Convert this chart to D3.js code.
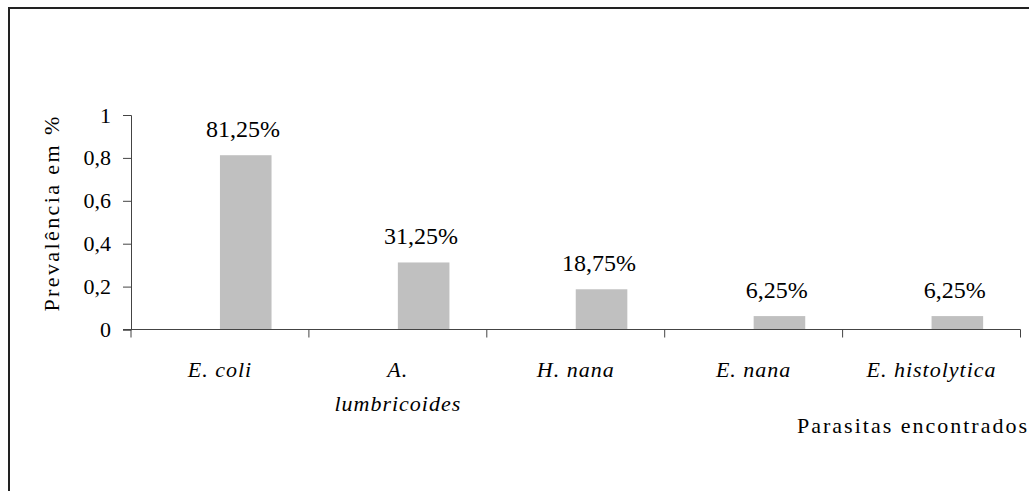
<!DOCTYPE html>
<html>
<head>
<meta charset="utf-8">
<script src="https://cdn.jsdelivr.net/npm/d3@7"></script>
<style>
  body { margin: 0; background: #fff; }
</style>
</head>
<body>
<svg id="chart" width="1029" height="491"></svg>
<script>
const categories = [['E. coli'], ['A.', 'lumbricoides'], ['H. nana'], ['E. nana'], ['E. histolytica']]
const values = [0.8125, 0.3125, 0.1875, 0.0625, 0.0625]
const valueLabels = ['81,25%', '31,25%', '18,75%', '6,25%', '6,25%']
const yTicks = [0, 0.2, 0.4, 0.6, 0.8, 1]

const serif = "'Liberation Serif', 'Times New Roman', Times, serif"
const svg = d3.select('#chart')
const mLeft = 131, mRight = 1020.5, mTop = 115, mBottom = 329.5

// outer frame (only top and left visible)
svg.append('path')
  .attr('d', 'M9,491 V8 H1029')
  .attr('fill', 'none')
  .attr('stroke', '#222')
  .attr('stroke-width', 2)

const x = d3.scaleBand()
  .domain(d3.range(categories.length))
  .range([mLeft, mRight])

const y = d3.scaleLinear()
  .domain([0, 1])
  .range([mBottom, mTop])

// bars start at the band centre (second series slot of an excel cluster)
svg.selectAll('rect.bar')
  .data(values)
  .enter()
  .append('rect')
  .attr('class', 'bar')
  .attr('x', (_, i) => x(i) + x.bandwidth() / 2)
  .attr('y', (d) => y(d))
  .attr('width', x.bandwidth() * 0.29)
  .attr('height', (d) => mBottom - y(d))
  .attr('fill', '#c0c0c0')

svg.selectAll('text.val')
  .data(values)
  .enter()
  .append('text')
  .attr('class', 'val')
  .attr('x', (_, i) => x(i) + x.bandwidth() / 2 + x.bandwidth() * 0.13)
  .attr('y', (d) => y(d) - 18)
  .attr('text-anchor', 'middle')
  .style('font-family', serif)
  .style('font-size', '24px')
  .text((_, i) => valueLabels[i])

// y axis
const yAxis = svg.append('g')
  .attr('transform', `translate(${mLeft},0)`)
  .call(d3.axisLeft(y).tickValues(yTicks).tickSize(8).tickPadding(12)
    .tickFormat((d) => String(d).replace('.', ',')))
yAxis.select('.domain').attr('stroke', '#444')
yAxis.selectAll('.tick line').attr('stroke', '#444')
yAxis.selectAll('.tick text')
  .style('font-family', serif)
  .style('font-size', '22px')
  .attr('fill', '#000')

// x axis
const xEdges = d3.range(categories.length + 1).map((i) => mLeft + i * x.bandwidth())
svg.append('line')
  .attr('x1', mLeft - 8).attr('x2', mRight)
  .attr('y1', mBottom).attr('y2', mBottom)
  .attr('stroke', '#444')
svg.selectAll('line.xtick')
  .data(xEdges)
  .enter()
  .append('line')
  .attr('class', 'xtick')
  .attr('x1', (d) => d).attr('x2', (d) => d)
  .attr('y1', mBottom).attr('y2', mBottom + 8)
  .attr('stroke', '#444')

const catText = svg.selectAll('text.cat')
  .data(categories)
  .enter()
  .append('text')
  .attr('class', 'cat')
  .attr('text-anchor', 'middle')
  .style('font-family', serif)
  .style('font-size', '22px')
  .style('font-style', 'italic')
  .style('letter-spacing', '1px')
catText.selectAll('tspan')
  .data((d, i) => d.map((line) => ({ line, i })))
  .enter()
  .append('tspan')
  .attr('x', (d) => x(d.i) + x.bandwidth() / 2)
  .attr('y', (_, j) => 377 + j * 34)
  .text((d) => d.line)

svg.append('text')
  .attr('x', 1029)
  .attr('y', 433)
  .attr('text-anchor', 'end')
  .style('font-family', serif)
  .style('font-size', '22px')
  .style('letter-spacing', '2px')
  .text('Parasitas encontrados')

svg.append('text')
  .attr('transform', 'translate(51,213) rotate(-90)')
  .attr('text-anchor', 'middle')
  .attr('dy', '0.35em')
  .style('font-family', serif)
  .style('font-size', '22px')
  .style('letter-spacing', '2.4px')
  .text('Prevalência em %')
</script>
</body>
</html>
